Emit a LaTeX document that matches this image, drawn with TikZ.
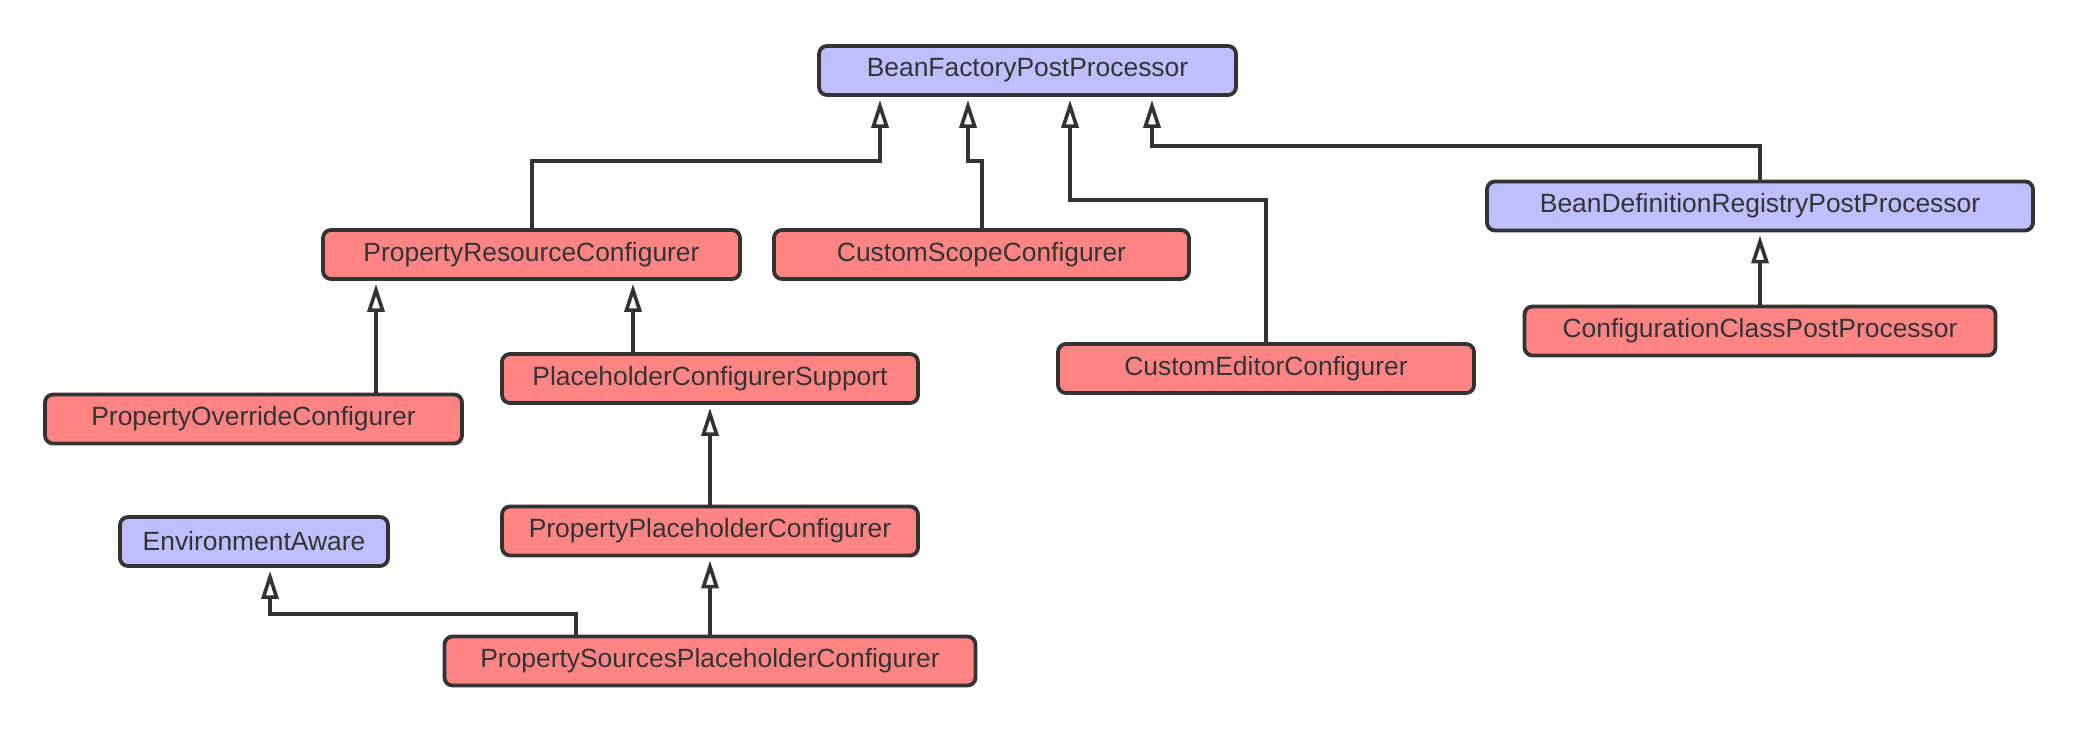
\documentclass[tikz,border=0pt]{standalone}
\usepackage{fontspec}
\setmainfont{Liberation Sans}
\usetikzlibrary{arrows.meta,calc}
\definecolor{ifacefill}{RGB}{191,191,255}
\definecolor{classfill}{RGB}{255,133,133}
\definecolor{edge}{RGB}{51,51,51}
\begin{document}
\begin{tikzpicture}[x=0.5pt, y=-0.5pt,
  box/.style={draw=edge, line width=1.9pt, rounded corners=4pt, minimum height=24.5pt,
    text=edge, font=\fontsize{13.2}{16}\selectfont, inner sep=0pt},
  iface/.style={box, fill=ifacefill},
  cls/.style={box, fill=classfill},
  isa/.style={draw=edge, line width=2pt, shorten >=1.5pt,
    -{Triangle[length=14pt, width=8.5pt, fill=white, line width=1.8pt]}}]
  \useasboundingbox (0,0) rectangle (2086,734);
  \node [iface, minimum width=208.5pt] (BFPP) at (1027.5,70.5) {BeanFactoryPostProcessor};
  \node [iface, minimum width=273pt] (BDRPP) at (1760,206) {BeanDefinitionRegistryPostProcessor};
  \node [cls, minimum width=208.5pt] (PRC) at (531.5,254.5) {PropertyResourceConfigurer};
  \node [cls, minimum width=207.5pt] (CSC) at (981.5,254.5) {CustomScopeConfigurer};
  \node [cls, minimum width=208pt] (CEC) at (1266,368.5) {CustomEditorConfigurer};
  \node [cls, minimum width=235.5pt] (CCPP) at (1760,331) {ConfigurationClassPostProcessor};
  \node [cls, minimum width=208.5pt] (POC) at (253.5,419) {PropertyOverrideConfigurer};
  \node [cls, minimum width=208pt] (PCS) at (710,378.5) {PlaceholderConfigurerSupport};
  \node [cls, minimum width=208pt] (PPC) at (710,531) {PropertyPlaceholderConfigurer};
  \node [iface, minimum width=134pt] (EA) at (254,541.5) {EnvironmentAware};
  \node [cls, minimum width=265.5pt] (PSPC) at (710,661) {PropertySourcesPlaceholderConfigurer};
  % arrow ends on the parents
  \coordinate (bf1) at ($(BFPP.south)+(-147.5,0)$);
  \coordinate (bf2) at ($(BFPP.south)+(-59.5,0)$);
  \coordinate (bf3) at ($(BFPP.south)+(42.5,0)$);
  \coordinate (bf4) at ($(BFPP.south)+(124.5,0)$);
  \coordinate (pr1) at ($(PRC.south)+(-155.5,0)$);
  \coordinate (pr2) at ($(PRC.south)+(101.5,0)$);
  \coordinate (ea1) at ($(EA.south)+(16,0)$);
  \draw [isa] (PRC.north) -- ++(0,-67) -| (bf1);
  \draw [isa] (CSC.north) -- ++(0,-67) -| (bf2);
  \draw [isa] (CEC.north) -- ++(0,-142) -| (bf3);
  \draw [isa] (BDRPP.north) -- ++(0,-34) -| (bf4);
  \draw [isa] (CCPP.north) -- (BDRPP.south);
  \draw [isa] (POC.north -| pr1) -- (pr1);
  \draw [isa] (PCS.north -| pr2) -- (pr2);
  \draw [isa] (PPC.north) -- (PCS.south);
  \draw [isa] (PSPC.north) -- (PPC.south);
  \draw [isa] ($(PSPC.north)+(-134,0)$) -- ++(0,-21) -| (ea1);
\end{tikzpicture}
\end{document}
